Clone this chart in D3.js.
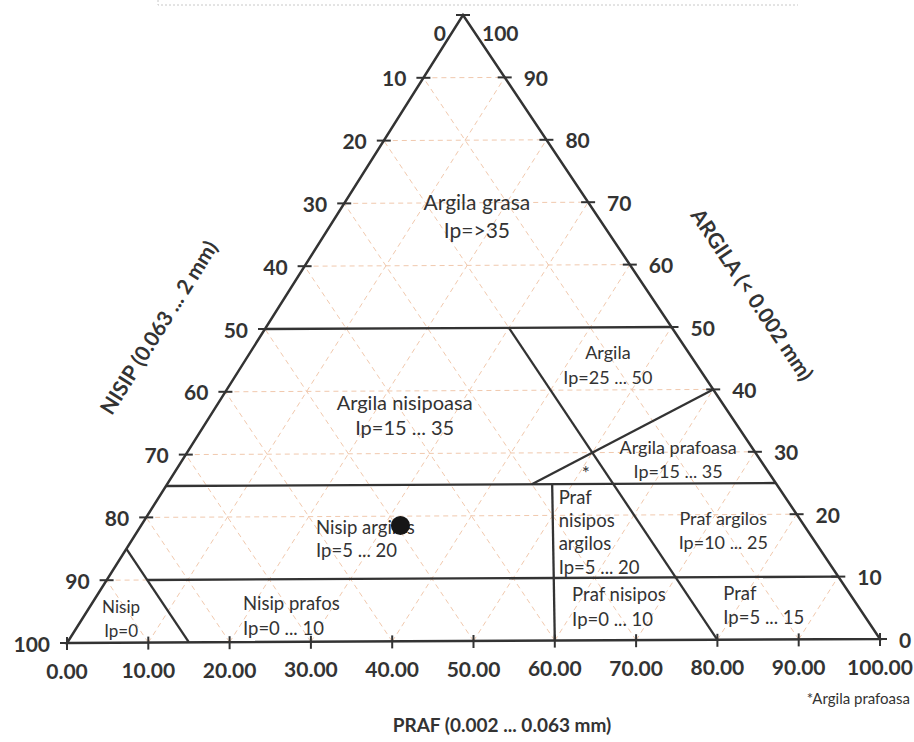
<!DOCTYPE html>
<html><head><meta charset="utf-8">
<script src="https://cdn.jsdelivr.net/npm/d3@7"></script>
<style>
body{margin:0;background:#fff}
text{font-family:Lato,"Open Sans",sans-serif;fill:#333}
</style>
</head><body>
<svg id="chart" width="914" height="742"></svg>
<script>
// ---- data ----
const tickValues = [0,10,20,30,40,50,60,70,80,90,100];
const bottomTickLabels = ["0.00","10.00","20.00","30.00","40.00","50.00","60.00","70.00","80.00","90.00","100.00"]; // PRAF (silt)
const leftTickLabels = ["0","10","20","30","40","50","60","70","80","90","100"];   // NISIP (sand)
const rightTickLabels = ["0","10","20","30","40","50","60","70","80","90","100"];  // ARGILA (clay)
const gridValues = [10,20,30,40,50,60,70,80,90];
// boundary segments, endpoints as [clay, silt]
const boundaries = [
  [[50,0],[50,50]],      // clay = 50
  [[25,0],[25,75]],      // clay = 25
  [[10,5],[10,90]],      // clay = 10
  [[15,0],[0,15]],       // sand = 85 (Nisip)
  [[50,30],[0,80]],      // sand = 20
  [[40,60],[25,45]],     // Argila prafoasa limit
  [[25,47.5],[0,60]]     // Praf nisipos limit
];
// region labels: lines, anchor [clay, silt], alignment
const regionNames = [
  {lines:["Argila grasa","Ip=>35"], at:[68,17.3], anchor:"middle", size:21, gap:28},
  {lines:["Argila","Ip=25 ... 50"], at:[44,45.1], anchor:"middle", size:18, gap:25},
  {lines:["Argila nisipoasa","Ip=15 ... 35"], at:[36.2,23.9], anchor:"middle", size:20, gap:25},
  {lines:["Argila prafoasa","Ip=15 ... 35"], at:[28.9,61.1], anchor:"middle", size:18, gap:24},
  {lines:["*"], at:[26.9,50.7], anchor:"middle", size:19, gap:0},
  {lines:["Nisip argilos","Ip=5 ... 20"], at:[16.5,22.6], anchor:"start", size:18.5, gap:23},
  {lines:["Praf","nisipos","argilos","Ip=5 ... 20"], at:[17.4,52.0], anchor:"start", size:18.5, gap:23.3},
  {lines:["Praf argilos","Ip=10 ... 25"], at:[17.5,72.2], anchor:"middle", size:18, gap:24},
  {lines:["Nisip","Ip=0"], at:[3.8,4.8], anchor:"middle", size:17, gap:24},
  {lines:["Nisip prafos","Ip=0 ... 10"], at:[4.2,19.6], anchor:"start", size:18.5, gap:25},
  {lines:["Praf nisipos","Ip=0 ... 10"], at:[5.4,59.5], anchor:"start", size:18.5, gap:25},
  {lines:["Praf","Ip=5 ... 15"], at:[5.6,78.0], anchor:"start", size:18.5, gap:24}
];
const samplePoints = [{clay:18.5, silt:32}];
const titleSand = "NISIP (0.063 ... 2 mm)";
const titleClay = "ARGILA (< 0.002 mm)";
const titleSilt = "PRAF (0.002 ... 0.063 mm)";
const footNote = "*Argila prafoasa";

// ---- layout ----
const svg = d3.select("#chart");
const L = [67,643], R = [880,639], T = [463,15];
const frac = d3.scaleLinear().domain([0,100]).range([0,1]);
function pt(clay, silt){
  const c = frac(clay), s = frac(silt), n = 1 - c - s;
  return [n*L[0] + s*R[0] + c*T[0], n*L[1] + s*R[1] + c*T[1]];
}
const line = d3.line();
const ink = "#333";

// faint scan border at top
svg.append("path").attr("d","M158,0 L158,5 L798,5")
  .attr("fill","none").attr("stroke","#c8c8c8").attr("stroke-width",1).attr("stroke-dasharray","2,2");

// grid
const grid = svg.append("g").attr("stroke","#f1c9ae").attr("stroke-width",1)
  .attr("stroke-dasharray","5,4").attr("fill","none");
gridValues.forEach(v=>{
  grid.append("path").attr("d", line([pt(v,0), pt(v,100-v)]));          // clay
  grid.append("path").attr("d", line([pt(0,v), pt(100-v,v)]));          // silt
  grid.append("path").attr("d", line([pt(0,100-v), pt(100-v,0)]));      // sand
});

// boundaries
svg.append("g").selectAll("path").data(boundaries).join("path")
  .attr("d", d=>line(d.map(p=>pt(p[0],p[1]))))
  .attr("stroke", ink).attr("stroke-width",2.3).attr("fill","none");

// triangle frame
svg.append("path").attr("d", line([pt(0,0), pt(0,100), pt(100,0)]) + "Z")
  .attr("fill","none").attr("stroke", ink).attr("stroke-width",2.5).attr("stroke-linejoin","miter");

// ticks
const tk = svg.append("g").attr("stroke", ink).attr("stroke-width",2);
tickValues.forEach(v=>{
  const a = pt(100-v, 0);   // left edge, sand = v
  tk.append("line").attr("x1",a[0]-7).attr("x2",a[0]+7).attr("y1",a[1]).attr("y2",a[1]);
  const b = pt(v, 100-v);   // right edge, clay = v
  tk.append("line").attr("x1",b[0]-7).attr("x2",b[0]+7).attr("y1",b[1]).attr("y2",b[1]);
  const c = pt(0, v);       // bottom, silt = v
  tk.append("line").attr("x1",c[0]).attr("x2",c[0]).attr("y1",c[1]-6).attr("y2",c[1]+7);
});

// tick labels
const tl = svg.append("g").attr("font-weight","bold").attr("font-size",21);
tickValues.forEach((v,i)=>{
  const a = pt(100-v, 0);
  tl.append("text").attr("x", a[0]-17).attr("y", a[1] + (v===0?17:0))
    .attr("text-anchor","end").attr("dominant-baseline","central").text(leftTickLabels[i]);
  const b = pt(v, 100-v);
  tl.append("text").attr("x", b[0]+19).attr("y", b[1] + (v===100?17:0))
    .attr("text-anchor","start").attr("dominant-baseline","central").text(rightTickLabels[i]);
  const c = pt(0, v);
  tl.append("text").attr("x", c[0]).attr("y", c[1]+27)
    .attr("text-anchor","middle").attr("dominant-baseline","central").text(bottomTickLabels[i]);
});

// region labels
const rl = svg.append("g");
regionNames.forEach(r=>{
  const p = pt(r.at[0], r.at[1]);
  const n = r.lines.length;
  r.lines.forEach((t,k)=>{
    rl.append("text").attr("x", p[0]).attr("y", p[1] + (k-(n-1)/2)*r.gap)
      .attr("text-anchor", r.anchor).attr("dominant-baseline","central")
      .attr("font-size", r.size).attr("fill","#3a3a3a").text(t);
  });
});

// sample point
svg.append("g").selectAll("circle").data(samplePoints).join("circle")
  .attr("cx", d=>pt(d.clay,d.silt)[0]).attr("cy", d=>pt(d.clay,d.silt)[1])
  .attr("r", 9.5).attr("fill","#161616");

// axis titles
svg.append("text").attr("transform","translate(158,327) rotate(-57.8)")
  .attr("text-anchor","middle").attr("dominant-baseline","central")
  .attr("font-weight","bold").attr("font-size",21).text(titleSand);
svg.append("text").attr("transform","translate(753,294) rotate(56.2)")
  .attr("text-anchor","middle").attr("dominant-baseline","central")
  .attr("font-weight","bold").attr("font-size",21).text(titleClay);
svg.append("text").attr("x",502).attr("y",724)
  .attr("text-anchor","middle").attr("dominant-baseline","central")
  .attr("font-weight","bold").attr("font-size",19).text(titleSilt);
svg.append("text").attr("x",910).attr("y",698)
  .attr("text-anchor","end").attr("dominant-baseline","central")
  .attr("font-size",15).text(footNote);
</script>
</body></html>
